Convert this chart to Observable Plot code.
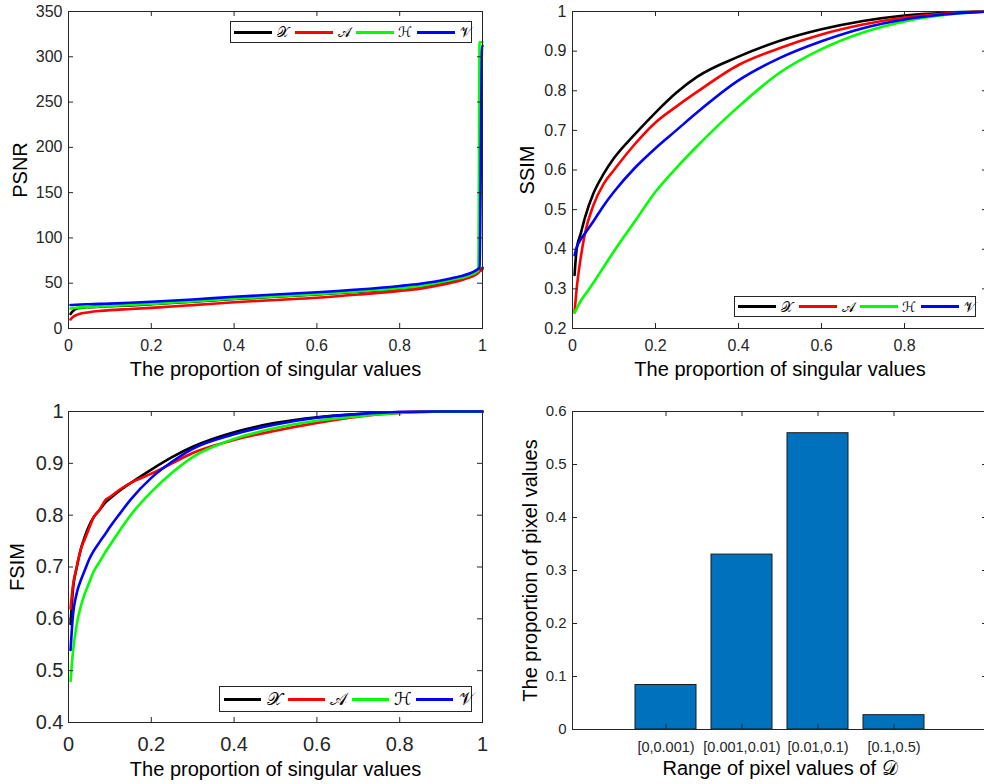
<!DOCTYPE html>
<html><head><meta charset="utf-8">
<script src="https://cdn.jsdelivr.net/npm/d3@7"></script>
<script src="https://cdn.jsdelivr.net/npm/@observablehq/plot@0.6"></script>
<style>
html,body{margin:0;padding:0;background:#fff;overflow:hidden;}
#root{position:relative;width:984px;height:784px;overflow:hidden;font-family:"Liberation Sans",Arial,sans-serif;background:#fff;}
.panel{position:absolute;width:500px;}
.panel svg{max-width:none !important;}
.legend{position:absolute;border:1px solid #262626;background:#fff;display:flex;align-items:center;box-sizing:border-box;}
.sw{display:inline-block;height:3px;flex:none;}
.sym{display:inline-block;text-align:center;flex:none;font-family:"DejaVu Serif","DejaVu Sans",serif;font-style:normal;color:#000;line-height:1;}
</style>
</head><body><div id="root"></div>
<script>
// ---------- data ----------
const seriesNames = ["𝒳", "𝒜", "ℋ", "𝒱"];
const seriesColors = ["#000000", "#ff0000", "#00ff00", "#0000ff"];
const xLabelSingular = "The proportion of singular values";

// PSNR panel
const psnrX = [0.005,0.01,0.02,0.03,0.05,0.075,0.1,0.15,0.2,0.3,0.4,0.5,0.6,0.7,0.8,0.85,0.9,0.93,0.95,0.97,0.98,0.99,0.993,0.999,1];
const psnrXs = [16,19,22,22.8,23.5,24,24.5,25.5,26.8,29.5,32.5,35,37.5,40.5,44,46.5,50,53,55,58,60,63,64,66,67];
const psnrA  = [10,12.5,15,16.5,18,19.3,20.3,21.5,22.8,25.8,29,31.5,34,37.5,41.5,44,48,51,53.5,56.5,58.5,61.5,63,65,66];
const psnrH  = [22,22.5,23,23.3,23.8,24.3,24.8,26,27,30,33,35.5,38,41,44.5,47,51,54,56,59,61,64,316,316,316];
const psnrV  = [26,26,26.3,26.5,26.8,27.2,27.5,28.4,29.5,32,35,37.5,40,43,47,49.5,53,56,58,61,63,66,67,312,312];
const psnrYTicks = [0,50,100,150,200,250,300,350];

// SSIM panel
const ssimX = [0.005,0.01,0.02,0.03,0.05,0.075,0.1,0.15,0.2,0.25,0.3,0.4,0.5,0.6,0.7,0.8,0.9,1];
const ssimXs = [0.335,0.40,0.44,0.48,0.54,0.59,0.63,0.69,0.745,0.795,0.835,0.886,0.926,0.955,0.976,0.99,0.997,1];
const ssimA  = [0.24,0.30,0.38,0.44,0.51,0.565,0.60,0.665,0.72,0.76,0.797,0.865,0.908,0.942,0.967,0.985,0.995,1];
const ssimH  = [0.24,0.25,0.27,0.285,0.315,0.355,0.395,0.47,0.545,0.605,0.66,0.76,0.846,0.905,0.947,0.975,0.992,1];
const ssimV  = [0.385,0.405,0.425,0.44,0.47,0.51,0.545,0.605,0.655,0.70,0.745,0.826,0.883,0.925,0.958,0.98,0.993,1];
const ssimYTicks = [0.2,0.3,0.4,0.5,0.6,0.7,0.8,0.9,1];

// FSIM panel
const fsimX = [0.005,0.01,0.02,0.03,0.04,0.05,0.06,0.075,0.09,0.1,0.125,0.15,0.2,0.25,0.3,0.4,0.5,0.6,0.7,0.8,0.9,1];
const fsimXs = [0.59,0.65,0.70,0.735,0.76,0.78,0.795,0.81,0.825,0.832,0.848,0.862,0.888,0.912,0.932,0.96,0.978,0.989,0.995,0.999,1,1];
const fsimA  = [0.62,0.66,0.70,0.735,0.755,0.775,0.795,0.81,0.83,0.835,0.85,0.862,0.88,0.90,0.92,0.945,0.963,0.978,0.99,0.997,1,1];
const fsimH  = [0.48,0.53,0.59,0.625,0.65,0.67,0.69,0.71,0.73,0.742,0.772,0.80,0.845,0.882,0.912,0.947,0.968,0.982,0.991,0.997,1,1];
const fsimV  = [0.54,0.60,0.65,0.675,0.695,0.715,0.73,0.748,0.765,0.777,0.804,0.83,0.872,0.903,0.928,0.956,0.975,0.988,0.995,0.999,1,1];
const fsimYTicks = [0.4,0.5,0.6,0.7,0.8,0.9,1];

const xTicksUnit = [0,0.2,0.4,0.6,0.8,1];
const xTickLabelsCropped = [0,0.2,0.4,0.6,0.8]; // "1" lies past the picture's right edge

// bar panel
const barCategories = ["[0,0.001)", "[0.001,0.01)", "[0.01,0.1)", "[0.1,0.5)"];
const barValues = [0.084, 0.330, 0.559, 0.027];
const barYTicks = [0,0.1,0.2,0.3,0.4,0.5,0.6];

// ---------- drawing ----------
const AX = "#262626";
const root = document.getElementById("root");
const baseStyle = {fontFamily: "'Liberation Sans', Arial, sans-serif", color: AX, background: "transparent", overflow: "visible", maxWidth: "none"};

function place(el, left, top) {
  const d = document.createElement("div");
  d.className = "panel"; d.style.left = left + "px"; d.style.top = top + "px";
  d.appendChild(el); root.appendChild(d);
}

function boxTicks(pw, ph, xTicks, yTicks) {
  return [
    Plot.tickX(xTicks, {x: d => d, stroke: AX, insetTop: ph - 5}),
    Plot.tickX(xTicks, {x: d => d, stroke: AX, insetBottom: ph - 5}),
    Plot.tickY(yTicks, {y: d => d, stroke: AX, insetRight: pw - 5}),
    Plot.tickY(yTicks, {y: d => d, stroke: AX, insetLeft: pw - 5})
  ];
}

function linePanel(o) {
  const pw = o.width - o.ml - o.mr, ph = o.height - o.mt - o.mb;
  const rows = [];
  o.ys.forEach((arr, k) => arr.forEach((v, i) => rows.push({x: o.xs[i], y: v, s: seriesNames[k]})));
  return Plot.plot({
    width: o.width, height: o.height,
    marginLeft: o.ml, marginRight: o.mr, marginTop: o.mt, marginBottom: o.mb,
    style: baseStyle,
    x: {domain: [0, 1]},
    y: {domain: o.yDomain},
    color: {domain: seriesNames, range: seriesColors},
    marks: [
      Plot.line(rows, {x: "x", y: "y", z: "s", stroke: "s", strokeWidth: 2.6, strokeLinejoin: "round", curve: "monotone-x"}),
      Plot.frame({stroke: AX, strokeWidth: 1}),
      ...boxTicks(pw, ph, xTicksUnit, o.yTicks),
      Plot.axisX({ticks: o.xTickLabels || xTicksUnit, tickSize: 0, tickPadding: o.xPad, fontSize: o.tickFont, tickFormat: d => String(d), label: null, fill: AX}),
      Plot.axisY({ticks: o.yTicks, tickSize: 0, tickPadding: o.yPad, fontSize: o.tickFont, tickFormat: d => String(d), label: null, fill: AX}),
      Plot.text([o.xLabel], {frameAnchor: "bottom", lineAnchor: "middle", textAnchor: "middle", dy: o.xLabelDy, fontSize: 20, fill: "#000"}),
      Plot.text([o.yLabel], {frameAnchor: "left", lineAnchor: "middle", textAnchor: "middle", rotate: -90, dx: o.yLabelDx, fontSize: 20, fill: "#000"})
    ]
  });
}

function legend(left, top, width, height, opt) {
  const lg = document.createElement("div");
  lg.className = "legend";
  Object.assign(lg.style, {left: left + "px", top: top + "px", width: width + "px", height: height + "px", paddingLeft: opt.padL + "px"});
  seriesNames.forEach((n, k) => {
    const sw = document.createElement("span");
    sw.className = "sw";
    Object.assign(sw.style, {width: opt.sw + "px", background: seriesColors[k], marginRight: opt.g1 + "px"});
    const t = document.createElement("span");
    t.className = "sym"; t.textContent = n;
    Object.assign(t.style, {width: opt.lw + "px", fontSize: opt.fs + "px", marginRight: (k < 3 ? opt.g2 : 0) + "px"});
    lg.appendChild(sw); lg.appendChild(t);
  });
  root.appendChild(lg);
}

// Panel 1: PSNR
place(linePanel({
  width: 500, height: 390, ml: 68, mr: 18, mt: 11, mb: 62,
  xs: psnrX, ys: [psnrXs, psnrA, psnrH, psnrV], yDomain: [0, 350], yTicks: psnrYTicks,
  tickFont: 16, xPad: 11, yPad: 6, xLabel: xLabelSingular, xLabelDy: 41, yLabel: "PSNR", yLabelDx: -48
}), 0, 0);

// Panel 2: SSIM
place(linePanel({
  width: 500, height: 390, ml: 72, mr: 13, mt: 11, mb: 62,
  xs: ssimX, ys: [ssimXs, ssimA, ssimH, ssimV], yDomain: [0.2, 1], yTicks: ssimYTicks, xTickLabels: xTickLabelsCropped,
  tickFont: 16, xPad: 11, yPad: 6, xLabel: xLabelSingular, xLabelDy: 41, yLabel: "SSIM", yLabelDx: -45
}), 500, 0);

// Panel 3: FSIM
place(linePanel({
  width: 500, height: 394, ml: 68, mr: 18, mt: 21, mb: 62,
  xs: fsimX, ys: [fsimXs, fsimA, fsimH, fsimV], yDomain: [0.4, 1], yTicks: fsimYTicks,
  tickFont: 20, xPad: 14, yPad: 5, xLabel: xLabelSingular, xLabelDy: 47, yLabel: "FSIM", yLabelDx: -51
}), 0, 390);

// Panel 4: bar chart
(function () {
  const width = 500, height = 394, ml = 72, mr = 13, mt = 21, mb = 55;
  const pw = width - ml - mr, ph = height - mt - mb;
  const rows = barCategories.map((c, i) => ({c, v: barValues[i]}));
  const svg = Plot.plot({
    width, height, marginLeft: ml, marginRight: mr, marginTop: mt, marginBottom: mb,
    style: baseStyle,
    x: {domain: barCategories, paddingInner: 0.2, paddingOuter: 0.795},
    y: {domain: [0, 0.6]},
    marks: [
      Plot.barY(rows, {x: "c", y: "v", fill: "#0072BD", stroke: "#1a1a1a", strokeWidth: 1}),
      Plot.frame({stroke: AX, strokeWidth: 1}),
      ...boxTicks(pw, ph, barCategories, barYTicks),
      Plot.axisX({tickSize: 0, tickPadding: 12, fontSize: 14.5, label: null, fill: AX}),
      Plot.axisY({ticks: barYTicks, tickSize: 0, tickPadding: 6, fontSize: 15, tickFormat: d => String(d), label: null, fill: AX}),
      Plot.text(["Range of pixel values of 𝒟"], {frameAnchor: "bottom", lineAnchor: "middle", textAnchor: "middle", dy: 39, fontSize: 20, fill: "#000"}),
      Plot.text(["The proportion of pixel values"], {frameAnchor: "left", lineAnchor: "middle", textAnchor: "middle", rotate: -90, dx: -42, fontSize: 20, fill: "#000"})
    ]
  });
  place(svg, 500, 390);
})();

// legends
legend(230, 21, 242, 22, {padL: 3, sw: 38, g1: 4, lw: 14, g2: 5, fs: 14});
legend(734, 296, 242, 21, {padL: 3, sw: 38, g1: 4, lw: 14, g2: 5, fs: 14});
legend(219, 686, 253, 26, {padL: 4, sw: 37, g1: 5, lw: 16, g2: 6, fs: 18});
</script>
</body></html>
